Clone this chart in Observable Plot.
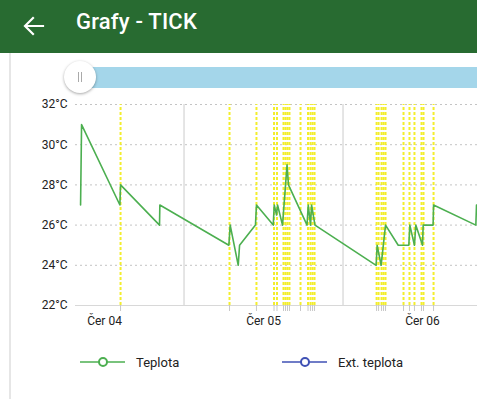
<!DOCTYPE html>
<html>
<head>
<meta charset="utf-8">
<script src="https://cdn.jsdelivr.net/npm/d3@7"></script>
<script src="https://cdn.jsdelivr.net/npm/@observablehq/plot@0.6"></script>
<style>
  html, body { margin: 0; padding: 0; width: 477px; height: 399px; overflow: hidden; background: #fff; font-family: Roboto, "Noto Sans", sans-serif; }
  #header { position: absolute; left: 0; top: 0; width: 477px; height: 53px; background: #286b31; }
  #title { position: absolute; left: 76px; top: 9px; color: #fff; font-size: 22px; font-weight: 500; letter-spacing: 0.2px; }
  #back { position: absolute; left: 22px; top: 15px; }
  #edge { position: absolute; left: 9px; top: 53px; width: 2px; height: 346px; background: #e6e6e6; }
  #track { position: absolute; left: 80px; top: 67px; width: 397px; height: 21px; background: #a4d6ea; }
  #knob { position: absolute; left: 64px; top: 61px; width: 32px; height: 32px; border-radius: 50%; background: #fff; box-shadow: 0 1px 3px rgba(0,0,0,0.35); }
  #knob::before, #knob::after { content: ""; position: absolute; top: 11px; width: 1px; height: 10px; background: #aaa; }
  #knob::before { left: 14px; } #knob::after { left: 17px; }
  #chart { position: absolute; left: 0; top: 90px; }
  #legend { position: absolute; left: 0; top: 350px; width: 477px; height: 24px; }
</style>
</head>
<body>
<div id="header">
  <svg id="back" width="24" height="22" viewBox="0 0 24 22"><path d="M21 11H4 M11 3L3 11L11 19" stroke="#fff" stroke-width="2.2" fill="none" stroke-linecap="square"/></svg>
  <div id="title">Grafy - TICK</div>
</div>
<div id="edge"></div>
<div id="track"></div>
<div id="knob"></div>
<div id="chart"></div>
<svg id="legend" width="477" height="24"></svg>
<script>
// Temperature series "Teplota"
const times = [
  "2019-06-03T20:23","2019-06-03T20:32","2019-06-04T02:19","2019-06-04T02:25",
  "2019-06-04T08:18","2019-06-04T08:21","2019-06-04T18:46","2019-06-04T18:58",
  "2019-06-04T20:11","2019-06-04T20:23","2019-06-04T22:47","2019-06-04T22:56",
  "2019-06-05T01:28","2019-06-05T01:37","2019-06-05T01:58","2019-06-05T02:07",
  "2019-06-05T02:52","2019-06-05T03:33","2019-06-05T03:46","2019-06-05T06:34",
  "2019-06-05T06:45","2019-06-05T07:06","2019-06-05T07:15","2019-06-05T07:46",
  "2019-06-05T17:00","2019-06-05T17:09","2019-06-05T17:45","2019-06-05T18:25",
  "2019-06-05T20:20","2019-06-05T21:56","2019-06-05T22:05","2019-06-05T22:47",
  "2019-06-05T22:59","2019-06-06T00:00","2019-06-06T00:06","2019-06-06T01:36",
  "2019-06-06T01:40","2019-06-06T08:03","2019-06-06T08:09"
];
const temps = [
  27, 31, 27, 28,
  26, 27, 25, 26,
  24, 25, 26, 27,
  26, 27, 26.5, 27,
  26, 29, 28, 26,
  27, 26, 27, 26,
  24, 25, 24, 26,
  25, 25, 26, 25,
  26, 25, 26, 26,
  27, 26, 27
];
// Event markers (yellow dotted verticals)
const events = [
  "2019-06-04T02:25","2019-06-04T18:52","2019-06-04T22:56",
  "2019-06-05T01:35","2019-06-05T02:02","2019-06-05T03:01","2019-06-05T03:19",
  "2019-06-05T03:37","2019-06-05T03:55","2019-06-05T05:35","2019-06-05T06:43",
  "2019-06-05T07:05","2019-06-05T07:24","2019-06-05T07:42",
  "2019-06-05T17:04","2019-06-05T17:22","2019-06-05T17:49","2019-06-05T18:07",
  "2019-06-05T18:25","2019-06-05T21:08","2019-06-05T22:02","2019-06-05T22:47",
  "2019-06-05T23:51","2019-06-06T00:09","2019-06-06T01:40"
];
const tickDates = ["2019-06-04T00:00","2019-06-05T00:00","2019-06-06T00:00"];
const tickLabels = ["Čer 04","Čer 05","Čer 06"];
const noonLines = ["2019-06-04T12:00","2019-06-05T12:00"];
const yTicks = [22, 24, 26, 28, 30, 32];
const xDomain = ["2019-06-03T19:37","2019-06-06T08:18"];
const seriesNames = ["Teplota", "Ext. teplota"];
const seriesColors = ["#4caf50", "#3f51b5"];

const P = s => new Date(s + ":00Z");
const data = times.map((t, i) => ({t: P(t), v: temps[i]}));
const ev = events.map(P);
const tk = tickDates.map(P);
const labelOf = new Map(tk.map((d, i) => [+d, tickLabels[i]]));

const chart = Plot.plot({
  width: 477,
  height: 250,
  marginLeft: 75,
  marginRight: 0,
  marginTop: 14,
  marginBottom: 35,
  style: {fontFamily: "Roboto, sans-serif", fontSize: "12px", color: "#222", background: "transparent"},
  x: {type: "utc", domain: xDomain.map(P), ticks: tk, tickFormat: d => labelOf.get(+d), tickSize: 0, tickPadding: 11, label: null},
  y: {domain: [22, 32], ticks: yTicks, tickFormat: d => d + "°C", tickSize: 0, tickPadding: 8, label: null},
  marks: [
    Plot.ruleY(yTicks.filter(d => d > 22), {stroke: "#c4c4c4", strokeDasharray: "2,3", strokeWidth: 1}),
    Plot.ruleY([22], {stroke: "#d8d8d8", strokeWidth: 1}),
    Plot.ruleX(noonLines.map(P), {stroke: "#d4d4d4", strokeWidth: 1.2}),
    Plot.ruleX(ev, {y1: 22, y2: 22, insetBottom: -6, stroke: "#c8c8c8", strokeWidth: 1}),
    Plot.ruleX(ev, {y1: 22, y2: 32, stroke: "#f3ee2c", strokeWidth: 2, strokeDasharray: "3,2"}),
    Plot.line(data, {x: "t", y: "v", stroke: seriesColors[0], strokeWidth: 1.6}),
    Plot.axisX({ticks: tk, tickFormat: d => labelOf.get(+d), tickSize: 0, tickPadding: 11, fill: "#222"}),
    Plot.axisY({ticks: yTicks, tickFormat: d => d + "°C", tickSize: 0, tickPadding: 8, fill: "#222"})
  ]
});
document.getElementById("chart").appendChild(chart);

// Legend
const lg = d3.select("#legend");
const lx = [80, 282];
seriesNames.forEach((name, i) => {
  const g = lg.append("g").attr("transform", `translate(${lx[i]},12)`);
  g.append("line").attr("x1", 0).attr("x2", 45).attr("y1", 0).attr("y2", 0).attr("stroke", seriesColors[i]).attr("stroke-width", 1.5);
  g.append("circle").attr("cx", 23).attr("cy", 0).attr("r", 4).attr("fill", "#fff").attr("stroke", seriesColors[i]).attr("stroke-width", 2);
  g.append("text").attr("x", 56).attr("y", 0).attr("dy", "0.35em").attr("font-size", 13).attr("fill", "#222").attr("font-family", "Roboto, sans-serif").text(name);
});
</script>
</body>
</html>
